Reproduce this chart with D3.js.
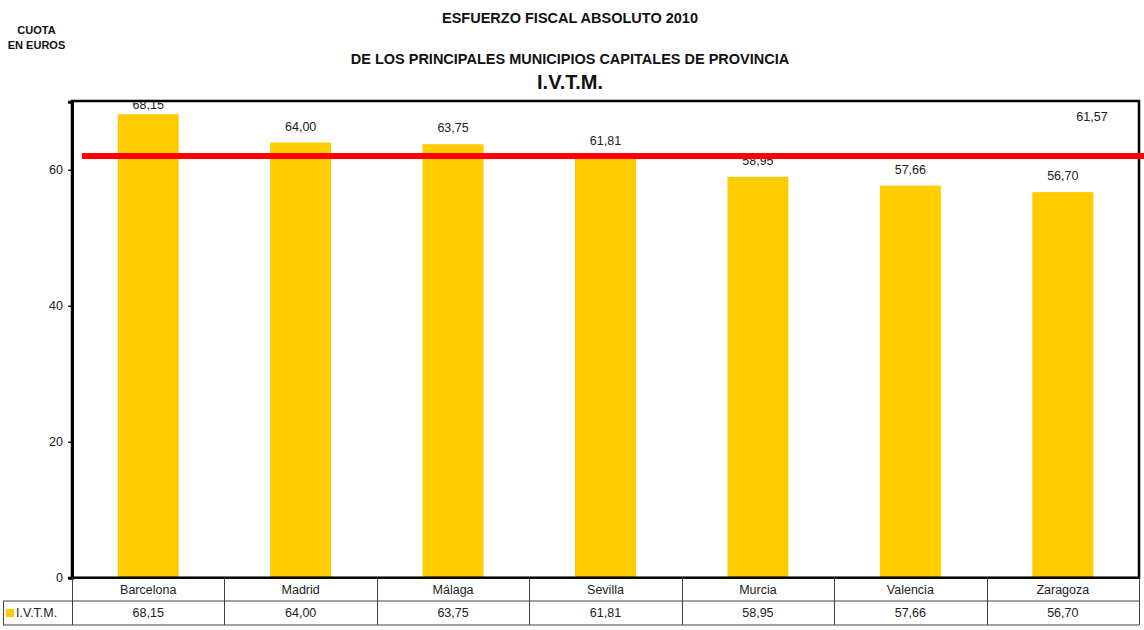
<!DOCTYPE html>
<html><head><meta charset="utf-8">
<script src="https://cdn.jsdelivr.net/npm/d3@7"></script>
<style>body{margin:0;background:#fff}svg{display:block;font-family:"Liberation Sans",Arial,sans-serif}</style>
</head><body><svg id="c" width="1144" height="630"></svg>
<script>
const categories = ["Barcelona","Madrid","Málaga","Sevilla","Murcia","Valencia","Zaragoza"];
const values = [68.15,64.00,63.75,61.81,58.95,57.66,56.70];
const average = 61.57;
const yTicks = [0,20,40,60];
const seriesName = "I.V.T.M.";
const fmt = v => v.toFixed(2).replace(".", ",");

const svg = d3.select("#c");
const L = 72, R = 1139, T = 101, B = 577.7;
const x = d3.scaleBand().domain(categories).range([L, R]).paddingInner(0).paddingOuter(0);
const y = d3.scaleLinear().domain([0, 70]).range([B, B - 70*6.8]);
const bw = x.bandwidth()*0.4;

// titles
svg.append("text").attr("x",570).attr("y",23).attr("text-anchor","middle").attr("font-weight","bold").attr("font-size",14.5).attr("fill","#111").text("ESFUERZO FISCAL ABSOLUTO 2010");
svg.append("text").attr("x",570).attr("y",64).attr("text-anchor","middle").attr("font-weight","bold").attr("font-size",14.5).attr("fill","#111").text("DE LOS PRINCIPALES MUNICIPIOS CAPITALES DE PROVINCIA");
svg.append("text").attr("x",570).attr("y",89).attr("text-anchor","middle").attr("font-weight","bold").attr("font-size",20).attr("fill","#111").text("I.V.T.M.");
svg.append("text").attr("x",36.5).attr("y",34).attr("text-anchor","middle").attr("font-weight","bold").attr("font-size",11).attr("fill","#111").text("CUOTA");
svg.append("text").attr("x",36.5).attr("y",48.5).attr("text-anchor","middle").attr("font-weight","bold").attr("font-size",11).attr("fill","#111").text("EN EUROS");

// bars
svg.selectAll("rect.bar").data(values).join("rect").attr("class","bar")
  .attr("x",(d,i)=>x(categories[i])+x.bandwidth()/2-bw/2).attr("width",bw)
  .attr("y",d=>y(d)).attr("height",d=>y(0)-y(d)).attr("fill","#FFCC00");

// value labels
svg.selectAll("text.vl").data(values).join("text").attr("class","vl")
  .attr("x",(d,i)=>x(categories[i])+x.bandwidth()/2)
  .attr("y",d=>Math.max(y(d)-12, T+8)).attr("text-anchor","middle").attr("font-size",12.5).attr("fill","#222")
  .text(d=>fmt(d));

// frame
svg.append("rect").attr("x",L).attr("y",T).attr("width",R-L).attr("height",B-T).attr("fill","none").attr("stroke","#000").attr("stroke-width",2.5);

// y axis
const ax = svg.append("g").attr("transform",`translate(${L},0)`).call(d3.axisLeft(y).tickValues(yTicks).tickSize(4).tickPadding(5));
ax.select(".domain").attr("stroke","#000").attr("stroke-width",3);
ax.selectAll(".tick line").attr("stroke","#000").attr("stroke-width",1.2);
ax.selectAll(".tick text").attr("font-size",12.5).attr("fill","#222").attr("font-family","Liberation Sans, Arial, sans-serif");

// average line (bottom edge at the value)
svg.append("rect").attr("x",82).attr("width",1144-82).attr("y",y(average)-6).attr("height",6).attr("fill","#FF0000");
svg.append("text").attr("x",1092).attr("y",121).attr("text-anchor","middle").attr("font-size",12.5).attr("fill","#222").text(fmt(average));

// data table
const r1 = B, r2 = 601, r3 = 625;
const tg = svg.append("g").attr("stroke","#444").attr("stroke-width",1).attr("fill","none");
tg.append("line").attr("x1",3).attr("x2",R).attr("y1",r2).attr("y2",r2);
tg.append("line").attr("x1",3).attr("x2",R).attr("y1",r3).attr("y2",r3);
tg.append("line").attr("x1",3.5).attr("x2",3.5).attr("y1",r2).attr("y2",r3);
const edges = categories.map(c=>x(c)).concat([R]);
tg.selectAll("line.v").data(edges).join("line").attr("class","v")
  .attr("x1",d=>Math.round(d)+0.5).attr("x2",d=>Math.round(d)+0.5).attr("y1",r1).attr("y2",r3);

svg.selectAll("text.cat").data(categories).join("text").attr("class","cat")
  .attr("x",d=>x(d)+x.bandwidth()/2).attr("y",594).attr("text-anchor","middle").attr("font-size",12.5).attr("fill","#222").text(d=>d);
svg.selectAll("text.tv").data(values).join("text").attr("class","tv")
  .attr("x",(d,i)=>x(categories[i])+x.bandwidth()/2).attr("y",617).attr("text-anchor","middle").attr("font-size",12.5).attr("fill","#222").text(d=>fmt(d));

svg.append("rect").attr("x",6).attr("y",609).attr("width",8).attr("height",8).attr("fill","#FFCC00");
svg.append("text").attr("x",16).attr("y",617).attr("font-size",12.5).attr("fill","#222").text(seriesName);
</script></body></html>
